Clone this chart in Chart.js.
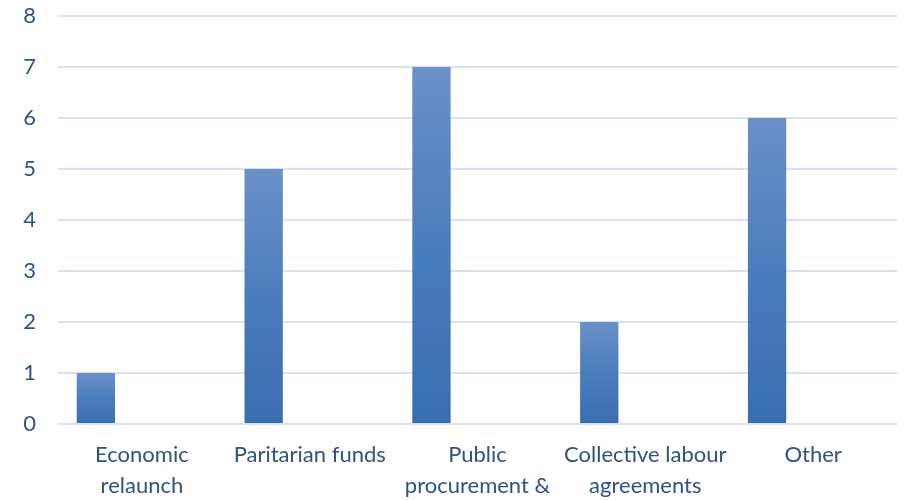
<!DOCTYPE html>
<html>
<head>
<meta charset="utf-8">
<script src="https://cdn.jsdelivr.net/npm/chart.js@4/dist/chart.umd.min.js"></script>
<style>
html,body{margin:0;padding:0;background:#fff;}
#wrap{width:910px;height:500px;position:relative;}
</style>
</head>
<body>
<div id="wrap"><canvas id="c" width="910" height="500"></canvas></div>
<script>
const categories = [
  ["Economic", "relaunch"],
  "Paritarian funds",
  ["Public", "procurement &"],
  ["Collective labour", "agreements"],
  "Other"
];
const seriesValues = [1, 5, 7, 2, 6];
const emptySeriesA = [null, null, null, null, null];
const emptySeriesB = [null, null, null, null, null];
const yTickMin = 0;
const yTickMax = 8;
const yTickStep = 1;

const TEXT = '#2f5283';
const GRID = '#d9e2f3';

function barGradient(ctx) {
  const chart = ctx.chart;
  if (!chart.chartArea || ctx.raw == null) return '#5182c2';
  const ys = chart.scales.y;
  const top = ys.getPixelForValue(ctx.raw);
  const bottom = ys.getPixelForValue(0);
  const g = chart.ctx.createLinearGradient(0, top, 0, bottom);
  g.addColorStop(0, '#6b90c8');
  g.addColorStop(0.5, '#4a7dbe');
  g.addColorStop(1, '#3a6cb1');
  return g;
}

new Chart(document.getElementById('c'), {
  type: 'bar',
  data: {
    labels: categories,
    datasets: [
      { data: seriesValues, backgroundColor: barGradient, borderWidth: 0 },
      { data: emptySeriesA, backgroundColor: '#ed7d31', borderWidth: 0 },
      { data: emptySeriesB, backgroundColor: '#a5a5a5', borderWidth: 0 }
    ]
  },
  options: {
    responsive: false,
    animation: false,
    categoryPercentage: 0.823,
    barPercentage: 0.832,
    layout: { padding: { left: 0, right: 13, top: 16, bottom: 0 } },
    plugins: { legend: { display: false }, tooltip: { enabled: false } },
    scales: {
      x: {
        grid: { display: false, drawTicks: false },
        border: { display: false },
        ticks: {
          color: TEXT,
          font: { family: 'Lato', size: 22, lineHeight: 1.4 },
          padding: 16,
          maxRotation: 0,
          autoSkip: false
        },
        afterFit: (s) => { s.height = 76; s.paddingLeft = 0; s.paddingRight = 0; s.paddingTop = 0; s.paddingBottom = 0; }
      },
      y: {
        min: yTickMin,
        max: yTickMax,
        grid: { color: GRID, lineWidth: 2, drawTicks: false },
        border: { display: false },
        ticks: {
          stepSize: yTickStep,
          color: TEXT,
          font: { family: 'Lato', size: 22 },
          padding: 22
        },
        afterFit: (s) => { s.width = 58; s.paddingTop = 0; s.paddingBottom = 0; s.paddingLeft = 0; s.paddingRight = 0; }
      }
    }
  }
});
</script>
</body>
</html>
